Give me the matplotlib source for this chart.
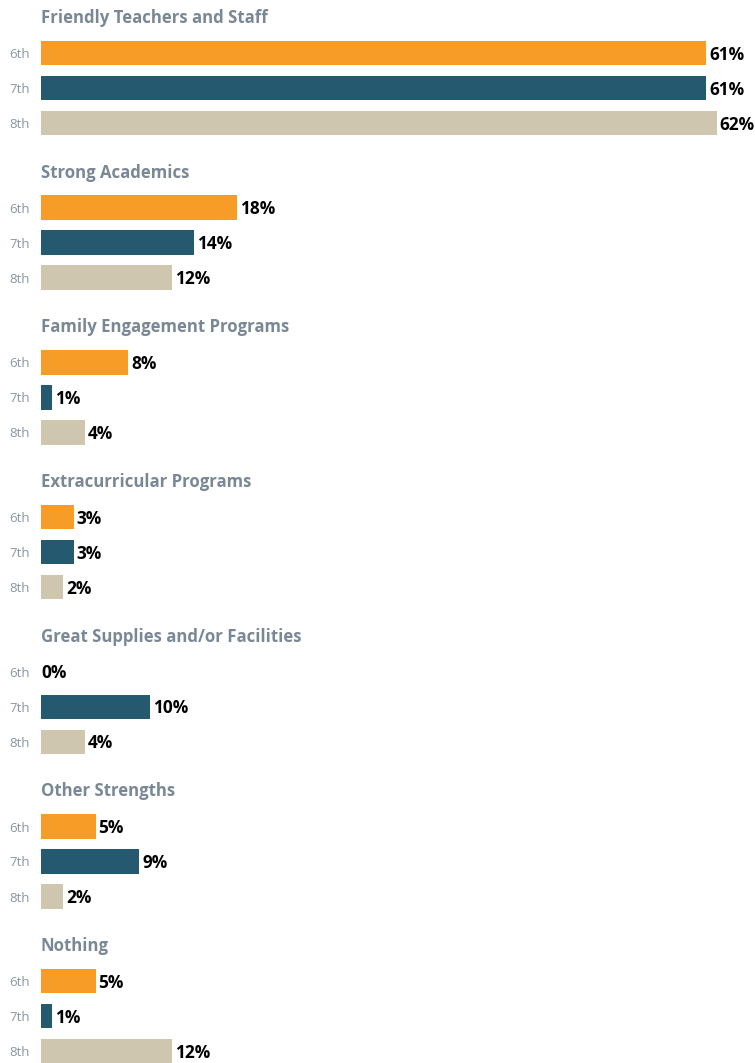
import matplotlib.pyplot as plt
import numpy as np

plt.rcParams['font.family'] = ['Open Sans', 'DejaVu Sans']

categories = ["Friendly Teachers and Staff", "Strong Academics", "Family Engagement Programs",
              "Extracurricular Programs", "Great Supplies and/or Facilities", "Other Strengths", "Nothing"]
grades = ["6th", "7th", "8th"]
grade_6 = [61, 18, 8, 3, 0, 5, 5]
grade_7 = [61, 14, 1, 3, 10, 9, 1]
grade_8 = [62, 12, 4, 2, 4, 2, 12]
colors = ["#F89C28", "#245970", "#CFC6B0"]

W, H = 755, 1063
fig = plt.figure(figsize=(W / 100, H / 100), dpi=100)
left = 41
ax = fig.add_axes([left / W, 0, 1 - left / W, 1])
ax.set_xlim(0, (W - left) / 10.9)
ax.set_ylim(H, 0)

group_step = 154.7
row_step = 35
first_bar = 53
title_off = 35

series = [grade_6, grade_7, grade_8]
yticks = []
ylabels = []
for g, cat in enumerate(categories):
    base = first_bar + g * group_step
    ax.text(0, base - title_off, cat, fontsize=12.1, fontweight='bold', color='#7A8896',
            va='center', ha='left')
    for k in range(3):
        y = base + k * row_step
        v = series[k][g]
        ax.barh(y, v, height=24.5, color=colors[k])
        ax.annotate(f"{v}%", (v, y), xytext=(2.2 if v else 0.5, -1.2), textcoords='offset points',
                    va='center', ha='left', fontsize=12.4, fontweight='bold', color='#000000')
        yticks.append(y)
        ylabels.append(grades[k])

ax.set_yticks(yticks)
ax.set_yticklabels(ylabels, fontsize=9.5, color='#8A96A2')
ax.tick_params(axis='y', length=0, pad=8)
ax.set_xticks([])
for s in ax.spines.values():
    s.set_visible(False)

fig.savefig("out.png", dpi=100)
